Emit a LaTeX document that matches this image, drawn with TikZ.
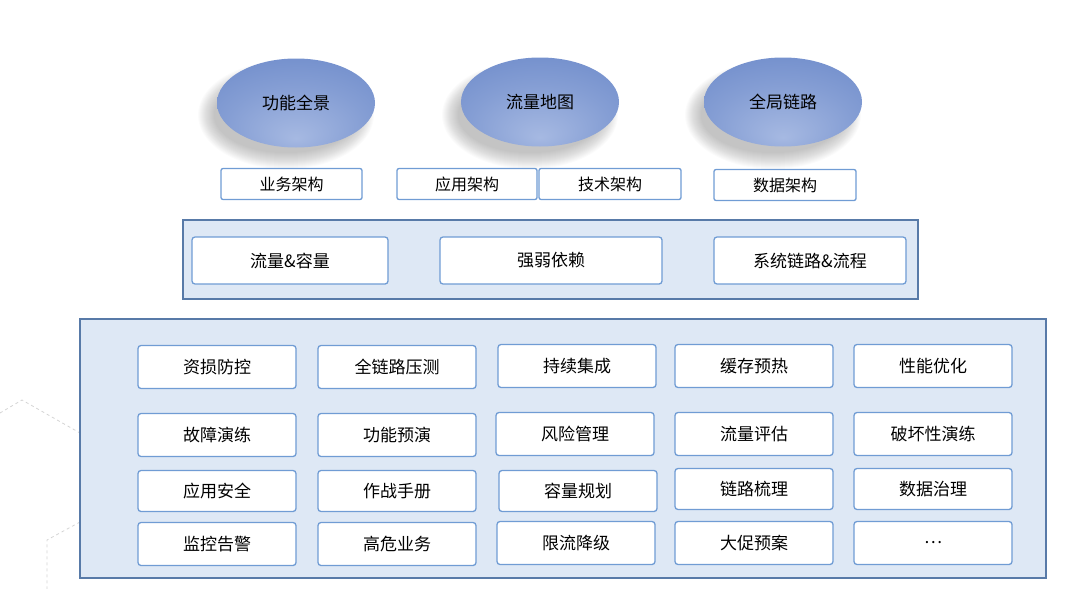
\documentclass[tikz,border=0pt]{standalone}
\usepackage{xcolor}
\usepackage{fontspec}
\usepackage{tikz}
\usetikzlibrary{shapes.geometric,positioning}
\newfontfamily\cjk{Noto Sans CJK SC}
\definecolor{ellipseLight}{RGB}{166,185,226}
\definecolor{ellipseDark}{RGB}{100,131,198}
\definecolor{boxColor}{RGB}{112,156,212}
\definecolor{panelFill}{RGB}{222,232,245}
\definecolor{panelColor}{RGB}{88,122,168}
\definecolor{decoColor}{RGB}{212,212,212}
\pgfdeclareradialshading{ellipseShade}{\pgfpoint{0bp}{-20bp}}{color(0bp)=(ellipseLight); color(22bp)=(ellipseLight!50!ellipseDark); color(48bp)=(ellipseDark); color(60bp)=(ellipseDark)}
\tikzset{
    viewEllipse/.style={ellipse, shading=ellipseShade, inner sep=0pt,
        minimum width=158pt, minimum height=89pt, font=\cjk\fontsize{17}{20}\selectfont},
    archBox/.style={draw=boxColor, line width=1.3pt, fill=white, rounded corners=2pt,
        minimum width=141pt, minimum height=31pt, inner sep=0pt, font=\cjk\fontsize{16}{19}\selectfont},
    layerBox/.style={draw=boxColor, line width=1.3pt, fill=white, rounded corners=3pt,
        minimum height=47pt, inner sep=0pt, font=\cjk\fontsize{17}{20}\selectfont},
    toolBox/.style={draw=boxColor, line width=1.3pt, fill=white, rounded corners=3pt,
        minimum width=158pt, minimum height=43pt, inner sep=0pt, font=\cjk\fontsize{17}{20}\selectfont},
    panel/.style={draw=panelColor, line width=1.6pt, fill=panelFill}
}
\begin{document}
\begin{tikzpicture}[x=1pt, y=-1pt]
            \useasboundingbox (0,0) rectangle (1080,589);

            % Background lines
            \draw[decoColor, dashed, line width=0.8pt] (0,413) -- (22,400) -- (80,433);
            \draw[decoColor, dashed, line width=0.8pt] (80,522) -- (47,540) -- (47,589);

            % Soft shadows under the ellipses
            \foreach \cx in {296,540,783} {
                \foreach \g in {0,1,...,16}
                    \fill[black, opacity=0.014] (\cx-10,115) ellipse ({72+\g} and {38+\g});
            }

            % Top views
            \node[viewEllipse] (panorama) at (296,103) {功能全景};
            \node[viewEllipse] (trafficMap) at (540,102) {流量地图};
            \node[viewEllipse] (globalLink) at (783,102) {全局链路};

            % Architecture labels
            \node[archBox] (bizArch) at (291.5,184) {业务架构};
            \node[archBox, minimum width=140pt] (appArch) at (467,184) {应用架构};
            \node[archBox, minimum width=142pt] (techArch) at (610,184) {技术架构};
            \node[archBox, minimum width=142pt] (dataArch) at (785,185) {数据架构};

            % Middle layer
            \draw[panel] (183,220) rectangle (918,299);
            \node[layerBox, minimum width=196pt] (capacity) at (290,260.5) {流量\&容量};
            \node[layerBox, minimum width=222pt] (dependency) at (551,260.5) {强弱依赖};
            \node[layerBox, minimum width=192pt] (linkFlow) at (810,260.5) {系统链路\&流程};

            % Bottom layer
            \draw[panel] (80,319) rectangle (1046,578);
            \node[toolBox] (lossCtrl) at (217,367) {资损防控};
            \node[toolBox] (stressTest) at (397,367) {全链路压测};
            \node[toolBox] (contInt) at (577,366) {持续集成};
            \node[toolBox] (cacheWarm) at (754,366) {缓存预热};
            \node[toolBox] (perfTune) at (933,366) {性能优化};

            \node[toolBox] (faultDrill) at (217,435) {故障演练};
            \node[toolBox] (funcDrill) at (397,435) {功能预演};
            \node[toolBox] (riskMgmt) at (575,434) {风险管理};
            \node[toolBox] (trafficEval) at (754,434) {流量评估};
            \node[toolBox] (chaosDrill) at (933,434) {破坏性演练};

            \node[toolBox, minimum height=41pt] (appSec) at (217,491) {应用安全};
            \node[toolBox, minimum height=41pt] (playbook) at (397,491) {作战手册};
            \node[toolBox, minimum height=41pt] (capPlan) at (578,491) {容量规划};
            \node[toolBox, minimum height=41pt] (linkSort) at (754,489) {链路梳理};
            \node[toolBox, minimum height=41pt] (dataGov) at (933,489) {数据治理};

            \node[toolBox] (monitor) at (217,544) {监控告警};
            \node[toolBox] (highRisk) at (397,544) {高危业务};
            \node[toolBox] (rateLimit) at (576,543) {限流降级};
            \node[toolBox] (promoPlan) at (754,543) {大促预案};
            \node[toolBox] (more) at (933,543) {…};
        \end{tikzpicture}
\end{document}
